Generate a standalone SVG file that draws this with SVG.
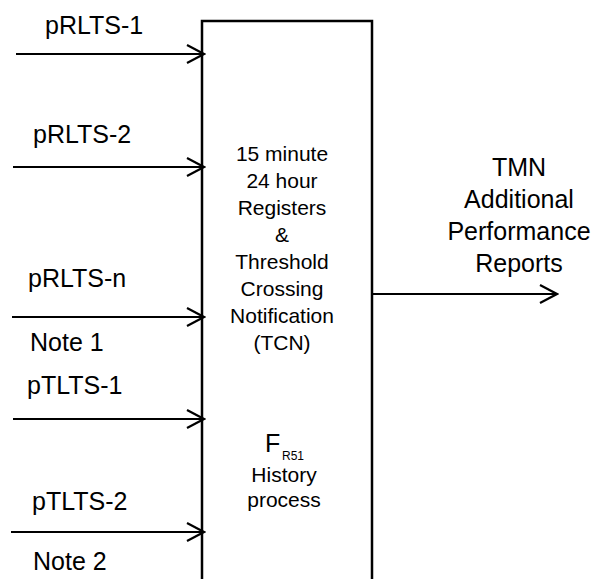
<svg xmlns="http://www.w3.org/2000/svg" width="595" height="579" viewBox="0 0 595 579">
<style>
text{font-family:"Liberation Sans",Arial,sans-serif;fill:#000}
.lbl{font-size:25px}
.mid{font-size:21px;text-anchor:middle}
.out{font-size:25px;text-anchor:middle}
.ln{stroke:#000;stroke-width:2.2;fill:none}
.box{stroke:#000;stroke-width:2.5;fill:none}
</style>
<defs>
<marker id="ah" viewBox="0 0 20 20" refX="18" refY="10" markerWidth="20" markerHeight="20" markerUnits="userSpaceOnUse" orient="auto">
<path d="M1,1 L18,10 L1,19" fill="none" stroke="#000" stroke-width="2.2"/>
</marker>
</defs>
<g id="process">
<path class="box" d="M202,579 V21 H372 V579"/>
<text class="mid" x="282" y="161">15 minute</text>
<text class="mid" x="282" y="188">24 hour</text>
<text class="mid" x="282" y="215">Registers</text>
<text class="mid" x="282" y="242">&amp;</text>
<text class="mid" x="282" y="269">Threshold</text>
<text class="mid" x="282" y="296">Crossing</text>
<text class="mid" x="282" y="323">Notification</text>
<text class="mid" x="282" y="350">(TCN)</text>
<text x="265" y="452" style="font-size:25px">F</text>
<text x="282" y="460" style="font-size:12px">R51</text>
<text class="mid" x="284" y="482">History</text>
<text class="mid" x="284" y="507">process</text>
</g>
<g id="labels">
<text class="lbl" x="45" y="34">pRLTS-1</text>
<text class="lbl" x="33" y="143">pRLTS-2</text>
<text class="lbl" x="28" y="287">pRLTS-n</text>
<text class="lbl" x="30" y="351">Note 1</text>
<text class="lbl" x="27" y="394">pTLTS-1</text>
<text class="lbl" x="32" y="510">pTLTS-2</text>
<text class="lbl" x="33" y="570">Note 2</text>
</g>
<g id="output">
<text class="out" x="519" y="176">TMN</text>
<text class="out" x="519" y="208">Additional</text>
<text class="out" x="519" y="240">Performance</text>
<text class="out" x="519" y="272">Reports</text>
</g>
<g id="connectors">
<line class="ln" x1="16" y1="54" x2="204" y2="54" marker-end="url(#ah)"/>
<line class="ln" x1="13" y1="167" x2="204" y2="167" marker-end="url(#ah)"/>
<line class="ln" x1="12" y1="317" x2="204" y2="317" marker-end="url(#ah)"/>
<line class="ln" x1="13" y1="419" x2="204" y2="419" marker-end="url(#ah)"/>
<line class="ln" x1="11" y1="532" x2="204" y2="532" marker-end="url(#ah)"/>
<line class="ln" x1="372" y1="294" x2="557" y2="294" marker-end="url(#ah)"/>
</g>
</svg>
